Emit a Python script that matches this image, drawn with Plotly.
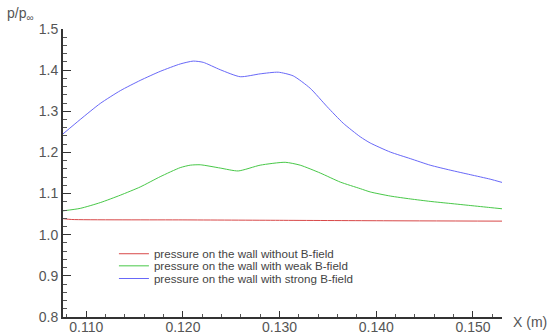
import plotly.graph_objects as go

x_red = [0.1076, 0.1085, 0.1200, 0.1300, 0.1400, 0.1530]
y_red = [1.039, 1.037, 1.036, 1.035, 1.034, 1.033]

x_green = [0.1076, 0.10938, 0.11145, 0.11352, 0.11558, 0.11765, 0.11972, 0.12076,
           0.12179, 0.12386, 0.12572, 0.12799, 0.13058, 0.13213, 0.13420, 0.13627,
           0.13834, 0.13937, 0.14144, 0.14351, 0.14557, 0.14764, 0.14971, 0.15178, 0.15302]
y_green = [1.058, 1.064, 1.078, 1.096, 1.116, 1.141, 1.163, 1.169,
           1.170, 1.162, 1.155, 1.169, 1.176, 1.169, 1.150, 1.128,
           1.112, 1.104, 1.094, 1.087, 1.081, 1.076, 1.071, 1.066, 1.063]

x_blue = [0.1076, 0.10938, 0.11145, 0.11352, 0.11558, 0.11765, 0.11972, 0.12107,
          0.12210, 0.12386, 0.12593, 0.12799, 0.12986, 0.13141, 0.13316, 0.13492,
          0.13658, 0.13834, 0.13937, 0.14144, 0.14351, 0.14557, 0.14764, 0.14971,
          0.15178, 0.15302]
y_blue = [1.245, 1.280, 1.319, 1.350, 1.375, 1.397, 1.415, 1.422,
          1.419, 1.401, 1.384, 1.391, 1.395, 1.386, 1.356, 1.311,
          1.271, 1.238, 1.223, 1.201, 1.185, 1.169, 1.157, 1.146,
          1.135, 1.127]

names = ["pressure on the wall without B-field",
         "pressure on the wall with weak B-field",
         "pressure on the wall with strong B-field"]
colors = ["#d84848", "#48c848", "#6868f8"]
x_ticks = [0.11, 0.12, 0.13, 0.14, 0.15]
x_ticktext = ["0.110", "0.120", "0.130", "0.140", "0.150"]
y_ticks = [0.8, 0.9, 1.0, 1.1, 1.2, 1.3, 1.4, 1.5]
y_ticktext = ["0.8", "0.9", "1.0", "1.1", "1.2", "1.3", "1.4", "1.5"]

legend_ids = ["legend", "legend2", "legend3"]
legend_y = [0.270, 0.228, 0.184]

fig = go.Figure()
for xs, ys, n, c, lg in [(x_red, y_red, names[0], colors[0], legend_ids[0]),
                         (x_green, y_green, names[1], colors[1], legend_ids[1]),
                         (x_blue, y_blue, names[2], colors[2], legend_ids[2])]:
    fig.add_trace(go.Scatter(x=xs, y=ys, mode="lines", name=n, legend=lg,
                             line=dict(color=c, width=1, shape="spline", smoothing=0.6)))

axfont = dict(family="Liberation Sans", size=14, color="#555555")
legfont = dict(family="Liberation Sans", size=11.6, color="#444444")


def leg(yv):
    return dict(x=0.116, y=yv, xanchor="left", yanchor="top",
                bgcolor="rgba(0,0,0,0)", font=legfont, tracegroupgap=0)


fig.update_layout(
    width=553, height=334,
    margin=dict(l=63, r=51, t=29, b=17),
    paper_bgcolor="white", plot_bgcolor="white",
    font=dict(family="Liberation Sans", color="#444444"),
    showlegend=True,
    legend=leg(legend_y[0]), legend2=leg(legend_y[1]), legend3=leg(legend_y[2]),
    xaxis=dict(range=[0.1076, 0.1530], tickvals=x_ticks, ticktext=x_ticktext,
               automargin=False, ticklabelstandoff=-4,
               showgrid=False, zeroline=False, showline=True, linecolor="#333333",
               linewidth=2, ticks="inside", ticklen=6, tickcolor="#333333", tickwidth=1,
               tickfont=axfont,
               minor=dict(dtick=0.002, tick0=0.11, ticks="inside", ticklen=3,
                          tickcolor="#555555", showgrid=False)),
    yaxis=dict(range=[0.8, 1.5], tickvals=y_ticks, ticktext=y_ticktext,
               automargin=False,
               showgrid=False, zeroline=False, showline=True, linecolor="#333333",
               linewidth=2, ticks="inside", ticklen=8, tickcolor="#333333", tickwidth=1,
               tickfont=axfont,
               minor=dict(dtick=0.02, tick0=0.8, ticks="inside", ticklen=4,
                          tickcolor="#555555", showgrid=False)),
    annotations=[
        dict(text="X (m)", xref="paper", yref="paper", x=1.107, y=0.0, xanchor="right",
             yanchor="top", yshift=5, showarrow=False, font=axfont),
        dict(text="p/p<sub>∞</sub>", xref="paper", yref="paper", x=-0.132, y=1.0,
             xanchor="left", yanchor="bottom", yshift=4, showarrow=False, font=axfont),
    ],
)
fig.write_html("out.html")
